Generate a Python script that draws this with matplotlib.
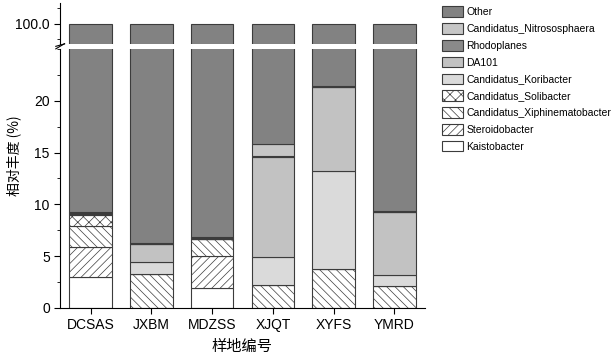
import numpy as np
import matplotlib.pyplot as plt
from matplotlib.ticker import MultipleLocator, FixedLocator

plt.rcParams['font.family'] = ['Liberation Sans', 'Noto Sans CJK SC', 'DejaVu Sans']
plt.rcParams['hatch.linewidth'] = 0.5

samples = ['DCSAS', 'JXBM', 'MDZSS', 'XJQT', 'XYFS', 'YMRD']

# bottom to top of the stack
kaistobacter = [3.02, 0.0, 1.96, 0.0, 0.0, 0.0]
steroidobacter = [2.90, 0.0, 3.06, 0.0, 0.0, 0.0]
xiphinematobacter = [2.00, 3.28, 1.61, 2.22, 3.74, 2.12]
solibacter = [1.06, 0.0, 0.0, 0.0, 0.0, 0.0]
koribacter = [0.10, 1.13, 0.05, 2.74, 9.46, 1.07]
da101 = [0.10, 1.74, 0.05, 9.64, 8.10, 6.05]
rhodoplanes = [0.05, 0.05, 0.05, 0.10, 0.05, 0.05]
nitrososphaera = [0.05, 0.05, 0.05, 1.10, 0.05, 0.05]

layers = [
    ('Kaistobacter', kaistobacter, 'white', None),
    ('Steroidobacter', steroidobacter, 'white', '////'),
    ('Candidatus_Xiphinematobacter', xiphinematobacter, 'white', '\\\\\\\\'),
    ('Candidatus_Solibacter', solibacter, 'white', 'xxx'),
    ('Candidatus_Koribacter', koribacter, '#dadada', None),
    ('DA101', da101, '#c2c2c2', None),
    ('Rhodoplanes', rhodoplanes, '#8a8a8a', None),
    ('Candidatus_Nitrososphaera', nitrososphaera, '#c6c6c6', None),
]
other = 100 - np.sum([l[1] for l in layers], axis=0)
layers.append(('Other', other, '#828282', None))

fig = plt.figure(figsize=(6.14, 3.54), dpi=100)
ax_top = fig.add_axes([0.098, 0.876, 0.594, 0.115])
ax = fig.add_axes([0.098, 0.130, 0.594, 0.732])

x = np.arange(1, len(samples) + 1)
edge = '#3c3c3c'
handles = []
for a in (ax, ax_top):
    bottom = np.zeros(len(samples))
    for name, vals, color, hatch in layers:
        b = a.bar(x, vals, 0.7, bottom=bottom, color=color, edgecolor=edge,
                  linewidth=0.8, hatch=hatch, label=name)
        bottom += np.array(vals)
        if a is ax:
            handles.append(b)

ax.set_ylim(0, 25)
ax.set_xlim(0.5, 6.5)
ax_top.set_ylim(98, 102)
ax_top.set_xlim(0.5, 6.5)

ax.yaxis.set_major_locator(FixedLocator([0, 5, 10, 15, 20]))
ax.yaxis.set_minor_locator(MultipleLocator(2.5))
ax_top.yaxis.set_major_locator(FixedLocator([100]))
ax_top.yaxis.set_minor_locator(FixedLocator([98.5, 101.5]))
ax_top.set_yticklabels(['100.0'])

for a in (ax, ax_top):
    a.spines['right'].set_visible(False)
    a.spines['top'].set_visible(False)
    a.tick_params(axis='y', direction='out', length=4, width=0.8, labelsize=10)
    a.tick_params(axis='y', which='minor', length=2, width=0.6)
    for s in a.spines.values():
        s.set_linewidth(0.8)
ax_top.spines['bottom'].set_visible(False)
ax_top.tick_params(axis='x', bottom=False, labelbottom=False)

ax.set_xticks(x)
ax.set_xticklabels(samples, fontsize=10)
ax.tick_params(axis='x', direction='out', length=4, width=0.8)
ax.set_xlabel('样地编号', fontsize=11, family=['Noto Sans CJK SC'])
fig.text(0.022, 0.56, '相对丰度 (%)', rotation=90, va='center', ha='center',
         fontsize=10, family=['Noto Sans CJK SC', 'DejaVu Sans'])

# break marks on the left spine
kw = dict(color='k', lw=0.8, clip_on=False)
ax.plot([-0.012, 0.012], [1.0, 1.02], transform=ax.transAxes, **kw)
ax_top.plot([-0.012, 0.012], [-0.06, 0.0], transform=ax_top.transAxes, **kw)

leg = fig.legend(handles[::-1], [l[0] for l in layers][::-1],
                 loc='upper left', bbox_to_anchor=(0.72, 0.982),
                 frameon=False, fontsize=7.5, handlelength=2.05,
                 handleheight=1.2, labelspacing=0.57, handletextpad=0.3,
                 borderpad=0, borderaxespad=0)

fig.savefig('out.png', dpi=100)
